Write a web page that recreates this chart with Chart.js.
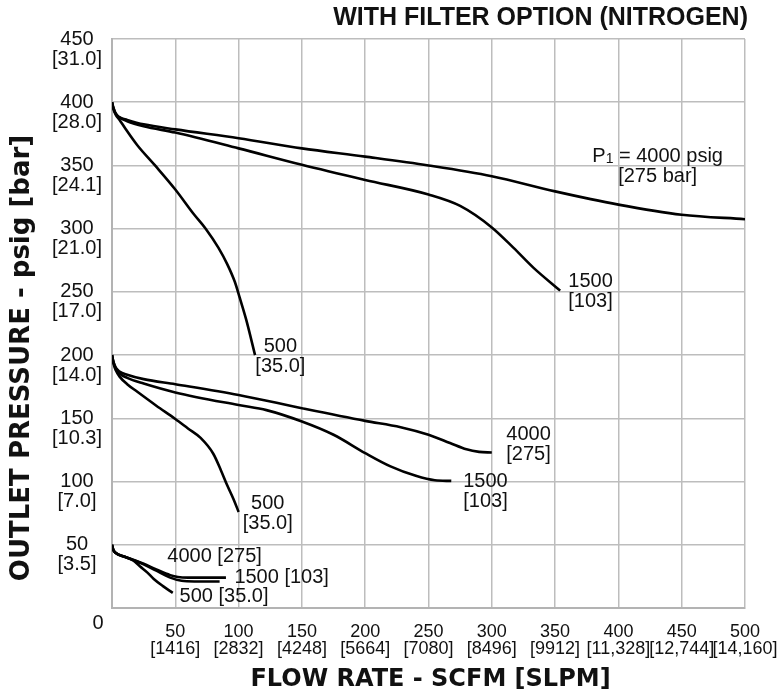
<!DOCTYPE html>
<html lang="en">
<head>
<meta charset="UTF-8">
<title>Outlet pressure vs flow rate - with filter option (nitrogen)</title>
<script src="https://cdn.jsdelivr.net/npm/chart.js@4"></script>
<style>
  body { margin: 0; background: #fff; }
  #wrap { width: 784px; height: 699px; }
</style>
</head>
<body>
<div id="wrap"><canvas id="flowChart" width="784" height="699"></canvas></div>
<script>
// axis tick labels
const xTickScfm = [50, 100, 150, 200, 250, 300, 350, 400, 450, 500];
const xTickSlpm = ['[1416]', '[2832]', '[4248]', '[5664]', '[7080]', '[8496]', '[9912]', '[11,328]', '[12,744]', '[14,160]'];
const yTickPsig = [50, 100, 150, 200, 250, 300, 350, 400, 450];
const yTickBar = ['[3.5]', '[7.0]', '[10.3]', '[14.0]', '[17.0]', '[21.0]', '[24.1]', '[28.0]', '[31.0]'];

// 400 psig outlet setting (flow in scfm, pressure in psig)
const hi4000X = [0, 1, 3, 6, 12, 25, 50, 100, 150, 200, 250, 300, 350, 400, 450, 500];
const hi4000Y = [400, 396, 391, 388, 386, 382.5, 378.5, 371.5, 363.5, 357, 350, 341.5, 329.5, 319, 311, 307.5];
const hi1500X = [0, 1, 3, 6, 12, 25, 50, 100, 150, 200, 250, 275, 300, 317, 333, 354];
const hi1500Y = [400, 396, 391, 388, 385, 381, 376, 363.5, 350.5, 338.5, 327, 318, 301, 285, 269, 251];
const hi500X = [0, 1, 3, 6, 10, 20, 34, 50, 65, 74, 84, 91, 97, 101, 106, 113];
const hi500Y = [400, 395, 390, 386, 380, 366, 350, 331, 311, 300, 285, 272, 258, 245, 228, 200];

// 200 psig outlet setting
const mid4000X = [0, 1, 3, 6, 12, 25, 50, 100, 150, 200, 228, 250, 267, 280, 290, 300];
const mid4000Y = [200, 195, 190, 187, 184.5, 181, 177, 168.5, 158, 148, 143, 137, 130.5, 125.5, 123.5, 123];
const mid1500X = [0, 1, 3, 6, 12, 25, 50, 100, 122, 150, 175, 200, 220, 240, 255, 268];
const mid1500Y = [200, 195, 189.5, 185.5, 182, 177.5, 170.5, 160.5, 156.5, 147.5, 137, 122.5, 112, 104.5, 101, 100.5];
const mid500X = [0, 1, 3, 6, 12, 20, 35, 50, 60, 70, 80, 86, 91, 96, 100];
const mid500Y = [200, 194, 188, 183, 177, 171, 160, 149.5, 142, 134.5, 122, 109, 97, 86, 76];

// 50 psig outlet setting
const low4000X = [0, 1, 3, 10, 17, 25, 35, 46, 52, 60, 90];
const low4000Y = [50, 46, 43.5, 40.5, 38, 35, 30.5, 26, 24.5, 24, 24];
const low1500X = [0, 1, 3, 10, 17, 25, 35, 46, 55, 65, 85];
const low1500Y = [50, 46, 43.5, 40.5, 38, 34.5, 29.5, 24, 21.5, 21, 21];
const low500X = [0, 1, 3, 10, 17, 22, 28, 33, 40, 48];
const low500Y = [50, 46, 43.5, 40.5, 37.5, 33, 28, 23, 17.5, 12];

// inlet pressure labels, anchored in data units (centre of the first line)
const curveLabels = [
  { text: ['P\u2081 = 4000 psig', '[275 bar]'], x: 431, y: 357 },
  { text: ['1500', '[103]'], x: 378, y: 258 },
  { text: ['500', '[35.0]'], x: 133, y: 207 },
  { text: ['4000', '[275]'], x: 329, y: 137 },
  { text: ['1500', '[103]'], x: 295, y: 100 },
  { text: ['500', '[35.0]'], x: 123, y: 83 },
  { text: ['4000 [275]'], x: 81, y: 41 },
  { text: ['1500 [103]'], x: 134, y: 24.5 },
  { text: ['500 [35.0]'], x: 88.5, y: 9 }
];

const series = [
  [hi4000X, hi4000Y], [hi1500X, hi1500Y], [hi500X, hi500Y],
  [mid4000X, mid4000Y], [mid1500X, mid1500Y], [mid500X, mid500Y],
  [low4000X, low4000Y], [low1500X, low1500Y], [low500X, low500Y]
];

const FONT = '"Liberation Sans", Arial, sans-serif';
const HEAVY = '"DejaVu Sans", sans-serif';

function drawLine(ctx, str, x, y) {
  // handles the subscript in "P1"
  const parts = str.split('\u2081');
  if (parts.length === 1) { ctx.fillText(str, x, y); return; }
  const big = '20px ' + FONT, small = '14px ' + FONT;
  ctx.font = big;
  const w0 = ctx.measureText(parts[0]).width, w2 = ctx.measureText(parts[1]).width;
  ctx.font = small;
  const w1 = ctx.measureText('1').width;
  let left = x - (w0 + w1 + w2) / 2;
  ctx.textAlign = 'left';
  ctx.font = big; ctx.fillText(parts[0], left, y);
  ctx.font = small; ctx.fillText('1', left + w0, y + 3);
  ctx.font = big; ctx.fillText(parts[1], left + w0 + w1, y);
  ctx.textAlign = 'center';
}

const textPlugin = {
  id: 'textPlugin',
  afterDraw(chart) {
    const ctx = chart.ctx;
    const xs = chart.scales.x, ys = chart.scales.y, area = chart.chartArea;
    ctx.save();
    ctx.fillStyle = '#111';
    ctx.textAlign = 'center';
    ctx.textBaseline = 'middle';

    // y ticks: psig on the grid line, bar beneath
    ctx.font = '20px ' + FONT;
    yTickPsig.forEach((v, i) => {
      const py = ys.getPixelForValue(v);
      ctx.fillText(String(v), area.left - 35, py);
      ctx.fillText(yTickBar[i], area.left - 35, py + 20);
    });
    ctx.fillText('0', area.left - 14, area.bottom + 15);

    // x ticks
    ctx.font = '18px ' + FONT;
    xTickScfm.forEach((v, i) => {
      const px = xs.getPixelForValue(v);
      ctx.fillText(String(v), px, area.bottom + 24);
      ctx.fillText(xTickSlpm[i], px, area.bottom + 41);
    });

    // curve labels
    curveLabels.forEach(l => {
      const px = xs.getPixelForValue(l.x), py = ys.getPixelForValue(l.y);
      l.text.forEach((t, k) => { ctx.font = '20px ' + FONT; drawLine(ctx, t, px, py + k * 20); });
    });

    // title
    ctx.font = 'bold 25px ' + FONT;
    ctx.textAlign = 'right';
    ctx.fillText('WITH FILTER OPTION (NITROGEN)', area.right + 3, 18);

    // axis titles
    ctx.textAlign = 'center';
    ctx.font = 'bold 24px ' + HEAVY;
    ctx.fillText('FLOW RATE - SCFM [SLPM]', (area.left + area.right) / 2 + 2, 680);
    ctx.save();
    ctx.font = 'bold 26px ' + HEAVY;
    ctx.translate(22, 358);
    ctx.rotate(-Math.PI / 2);
    ctx.fillText('OUTLET PRESSURE - psig [bar]', 0, 0);
    ctx.restore();

    ctx.restore();
  }
};

const gridOpts = { color: '#bdbdbd', lineWidth: 1.5, drawTicks: false };
const borderOpts = { color: '#b3b3b3', width: 2 };

new Chart(document.getElementById('flowChart'), {
  type: 'line',
  data: {
    datasets: series.map(s => ({
      data: s[0].map((x, i) => ({ x: x, y: s[1][i] })),
      borderColor: '#000',
      borderWidth: 2.6,
      pointRadius: 0,
      fill: false,
      cubicInterpolationMode: 'monotone'
    }))
  },
  options: {
    responsive: false,
    animation: false,
    layout: { padding: { left: 112, top: 39, right: 39, bottom: 91 } },
    plugins: { legend: { display: false }, tooltip: { enabled: false } },
    scales: {
      x: {
        type: 'linear', min: 0, max: 500,
        ticks: { display: false, stepSize: 50 },
        grid: gridOpts, border: borderOpts
      },
      y: {
        type: 'linear', min: 0, max: 450,
        ticks: { display: false, stepSize: 50 },
        grid: gridOpts, border: borderOpts
      }
    }
  },
  plugins: [textPlugin]
});
</script>
</body>
</html>
